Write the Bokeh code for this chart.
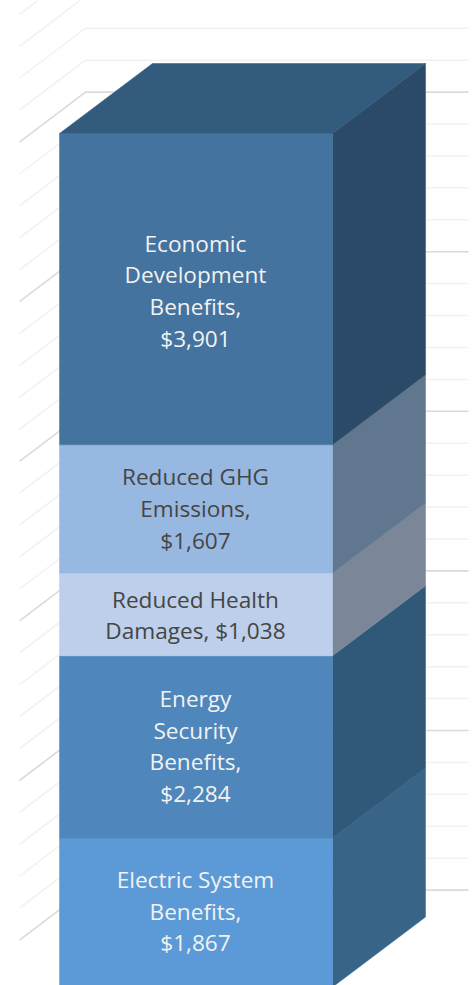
from bokeh.plotting import figure
from bokeh.embed import file_html
from bokeh.resources import INLINE
from bokeh.core.properties import value

categories = ["Electric System Benefits", "Energy Security Benefits", "Reduced Health Damages",
              "Reduced GHG Emissions", "Economic Development Benefits"]
values = [1867, 2284, 1038, 1607, 3901]
label_lines = [["Electric System", "Benefits,", "$1,867"],
               ["Energy", "Security", "Benefits,", "$2,284"],
               ["Reduced Health", "Damages, $1,038"],
               ["Reduced GHG", "Emissions,", "$1,607"],
               ["Economic", "Development", "Benefits,", "$3,901"]]
front_colors = ["#5b9ad6", "#4f86bb", "#bdcfea", "#97b8e0", "#44739f"]
side_colors = ["#386488", "#305878", "#7b8798", "#61768f", "#2b4a67"]
top_color = "#335b7d"
text_colors = ["#f2f2f2", "#f2f2f2", "#454545", "#454545", "#f2f2f2"]
label_nudge = [-1.5, -1.0, 0.5, -0.5, 1.5]
grid_ticks = list(range(0, 11601, 400))

W, H = 474, 985
PX = 0.0798            # pixels per value unit
BAR_PX = 273           # bar width in pixels
base_px = 986.6        # page y of value 0 at the front of the bar
left_px = 59           # page x of the bar's left edge

x0 = -0.5 - left_px / BAR_PX
x1 = x0 + W / BAR_PX
y0 = (base_px - H) / PX
y1 = y0 + H / PX

p = figure(width=W, height=H, x_range=(x0, x1), y_range=(y0, y1),
           output_backend="svg", toolbar_location=None, min_border=0,
           x_axis_type="linear", y_axis_type="linear")
p.axis.visible = False
p.grid.visible = False
p.outline_line_color = None
p.background_fill_color = "white"
p.border_fill_color = "white"

dx = 93 / BAR_PX
dy = 70 / PX

# walls: gridlines on the back wall and the left wall
wall_back_x = (85 - left_px) / BAR_PX - 0.5
wall_right_x = (468 - left_px) / BAR_PX - 0.5
wall_left_x = (19 - left_px) / BAR_PX - 0.5
wall_lift = (base_px - 889.6) / PX
wall_drop = 50 / PX
for major in (False, True):
    ticks = [t for t in grid_ticks if (t % 2000 == 0) == major]
    color = "#dadada" if major else "#f1f1f1"
    width = 1.6 if major else 1.5
    p.multi_line(xs=[[wall_left_x, wall_back_x, wall_right_x] for _ in ticks],
                 ys=[[t + wall_lift - wall_drop, t + wall_lift, t + wall_lift] for t in ticks],
                 line_color=color, line_width=width)

# stacked 3-D column
bottom = 0
tops = []
for v, fc, sc in zip(values, front_colors, side_colors):
    top = bottom + v
    p.patch([0.5, 0.5 + dx, 0.5 + dx, 0.5], [bottom, bottom + dy, top + dy, top],
            fill_color=sc, line_color=sc, line_width=0.5)
    p.quad(left=-0.5, right=0.5, bottom=bottom, top=top, fill_color=fc, line_color=fc, line_width=0.5)
    tops.append((bottom, top))
    bottom = top
p.patch([-0.5, 0.5, 0.5 + dx, -0.5 + dx], [bottom, bottom, bottom + dy, bottom + dy],
        fill_color=top_color, line_color=top_color, line_width=0.5)

# data labels
LINE = 31.7
for lines, (b, t), col, nudge in zip(label_lines, tops, text_colors, label_nudge):
    n = len(lines)
    xs = [-0.002] * n
    ys = [(b + t) / 2] * n
    offs = [(i - (n - 1) / 2) * LINE + nudge for i in range(n)]
    p.text(xs, ys, text=lines, y_offset=offs, text_align="center", text_baseline="middle",
           text_color=col, text_font=value("Open Sans"), text_font_size="22.6px")

open("out.html", "w").write(file_html(p, INLINE))
